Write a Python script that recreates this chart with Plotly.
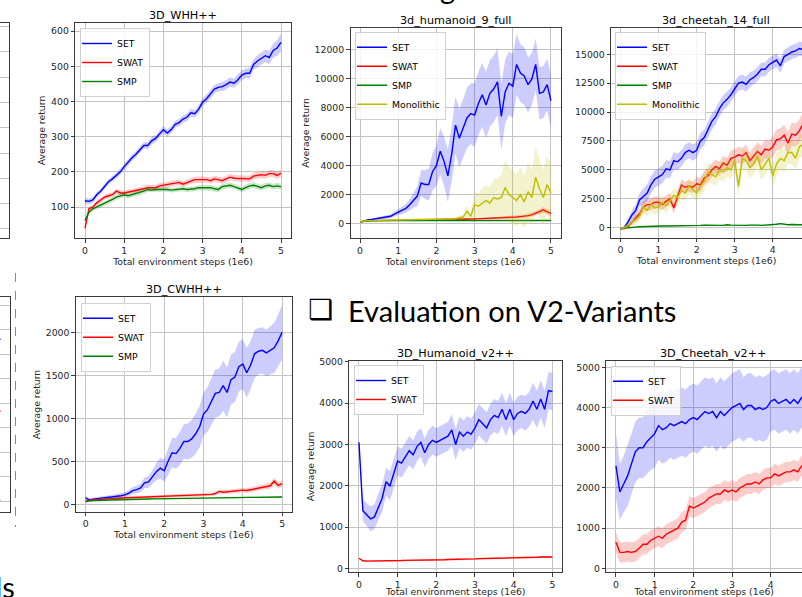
import plotly.graph_objects as go

W, H = 802, 597

STEPS = [0.0, 0.1, 0.2, 0.3, 0.4, 0.5, 0.6, 0.7, 0.8, 0.9,
         1.0, 1.1, 1.2, 1.3, 1.4, 1.5, 1.6, 1.7, 1.8, 1.9,
         2.0, 2.1, 2.2, 2.3, 2.4, 2.5, 2.6, 2.7, 2.8, 2.9,
         3.0, 3.1, 3.2, 3.3, 3.4, 3.5, 3.6, 3.7, 3.8, 3.9,
         4.0, 4.1, 4.2, 4.3, 4.4, 4.5, 4.6, 4.7, 4.8, 4.9,
         5.0]
X_TICKS = [0, 1, 2, 3, 4, 5]

# ---------------- 3D_WHH++ ----------------
WHH_SET = [118, 116, 120, 135, 145, 160, 172, 180, 190, 200,
           215, 228, 240, 250, 262, 275, 275, 288, 295, 308,
           320, 310, 320, 335, 340, 350, 355, 368, 365, 378,
           398, 408, 420, 435, 440, 442, 448, 455, 452, 462,
           475, 480, 480, 505, 515, 522, 530, 525, 545, 552,
           568]
WHH_SET_STD = [8, 8, 8, 8, 8, 8, 8, 8, 8, 9,
               9, 9, 9, 9, 9, 9, 10, 10, 10, 10,
               10, 10, 10, 10, 10, 10, 11, 11, 11, 11,
               12, 12, 12, 12, 12, 13, 13, 13, 13, 14,
               14, 14, 15, 15, 16, 17, 18, 19, 20, 22,
               25]
WHH_SWAT = [40, 95, 100, 112, 120, 128, 132, 135, 145, 140,
            140, 142, 145, 148, 150, 152, 155, 155, 155, 160,
            162, 162, 165, 168, 170, 165, 170, 175, 178, 178,
            178, 178, 175, 180, 178, 175, 180, 185, 182, 182,
            180, 182, 180, 188, 190, 192, 190, 195, 195, 190,
            196]
WHH_SWAT_STD = [5, 6, 6, 7, 7, 7, 7, 7, 7, 7,
                7, 7, 7, 7, 7, 7, 8, 8, 8, 8,
                8, 8, 8, 8, 8, 8, 8, 8, 9, 9,
                9, 9, 9, 9, 9, 9, 9, 9, 9, 9,
                9, 9, 9, 10, 10, 10, 10, 10, 10, 10,
                10]
WHH_SMP = [62, 85, 95, 100, 105, 110, 115, 122, 128, 132,
           135, 132, 135, 138, 140, 145, 150, 148, 150, 150,
           152, 150, 148, 150, 150, 152, 150, 150, 152, 155,
           155, 155, 155, 152, 150, 158, 160, 162, 158, 155,
           150, 155, 160, 162, 158, 155, 160, 162, 158, 160,
           158]
WHH_SMP_STD = [5, 6, 6, 6, 7, 7, 7, 7, 7, 7,
               7, 7, 7, 7, 7, 7, 7, 7, 7, 7,
               7, 7, 7, 7, 7, 7, 7, 7, 7, 7,
               8, 8, 8, 8, 8, 8, 8, 8, 8, 8,
               8, 8, 8, 8, 8, 8, 8, 8, 8, 8,
               8]

# ---------------- 3d_humanoid_9_full ----------------
H9_SET = [100, 200, 250, 280, 320, 350, 400, 450, 500, 650,
          800, 900, 1050, 1300, 1600, 1900, 2800, 2700, 2700, 3600,
          4000, 5000, 4300, 3300, 4800, 6800, 5900, 6600, 7300, 7600,
          7500, 8300, 8900, 8200, 9000, 9300, 9800, 7400, 9100, 9700,
          9500, 11000, 10400, 10200, 9600, 10000, 11000, 9000, 9100, 9600,
          8500]
H9_SET_STD = [50, 50, 60, 70, 80, 90, 100, 120, 140, 170,
              200, 250, 300, 400, 500, 700, 900, 1000, 1100, 1300,
              1400, 1600, 1700, 1800, 1900, 2000, 2000, 2000, 2100, 2100,
              2200, 2200, 2200, 2300, 2300, 2300, 2300, 2300, 2200, 2200,
              2200, 2100, 2000, 2000, 1900, 1800, 1800, 1800, 1800, 1800,
              1800]
H9_SWAT = [100, 180, 200, 200, 200, 200, 210, 210, 220, 220,
           220, 230, 230, 240, 240, 240, 250, 250, 260, 260,
           260, 270, 270, 280, 280, 290, 290, 300, 300, 310,
           320, 330, 330, 340, 350, 360, 350, 380, 400, 420,
           430, 450, 480, 500, 550, 600, 700, 800, 950, 800,
           700]
H9_SWAT_STD = [20, 30, 30, 30, 30, 30, 30, 30, 30, 30,
               30, 30, 30, 30, 30, 30, 40, 40, 40, 40,
               40, 40, 40, 40, 50, 50, 50, 50, 50, 50,
               60, 60, 60, 70, 70, 80, 80, 90, 90, 100,
               100, 110, 120, 130, 140, 150, 160, 180, 200, 200,
               200]
H9_SMP = [100, 150, 180, 190, 200, 200, 200, 200, 200, 200,
          200, 205, 205, 200, 200, 205, 210, 210, 205, 205,
          210, 210, 215, 210, 210, 215, 215, 210, 215, 220,
          220, 215, 215, 220, 220, 215, 220, 220, 225, 220,
          220, 215, 220, 225, 220, 220, 225, 220, 220, 215,
          215]
H9_SMP_STD = [20, 20, 20, 20, 20, 20, 20, 20, 20, 20,
              20, 20, 20, 20, 20, 20, 20, 20, 20, 20,
              25, 25, 25, 25, 25, 25, 25, 25, 25, 25,
              25, 25, 25, 25, 25, 25, 25, 25, 25, 25,
              30, 30, 30, 30, 30, 30, 30, 30, 30, 30,
              30]
H9_MONO = [100, 180, 200, 210, 220, 230, 240, 250, 250, 260,
           260, 260, 270, 270, 270, 280, 280, 290, 290, 300,
           300, 300, 310, 310, 320, 330, 400, 450, 850, 500,
           1300, 1200, 1400, 1600, 1400, 1800, 1700, 1800, 2500, 2000,
           1800, 1600, 2000, 1500, 2200, 1800, 3200, 2400, 1800, 2700,
           2100]
H9_MONO_STD = [30, 30, 30, 30, 30, 30, 30, 30, 30, 40,
               40, 40, 40, 40, 40, 50, 50, 50, 50, 50,
               60, 60, 60, 70, 80, 90, 150, 200, 400, 300,
               900, 900, 1000, 1100, 1100, 1300, 1400, 1600, 1900, 1900,
               1900, 1800, 1900, 1800, 2000, 1900, 2200, 2000, 1900, 2000,
               2000]

# ---------------- 3d_cheetah_14_full ----------------
C14_SET = [-100, 0, 500, 1100, 1500, 2400, 2700, 3000, 3700, 4200,
           4400, 4600, 5100, 5000, 5800, 5700, 6000, 6500, 6700, 6500,
           6700, 7500, 7800, 8500, 9200, 9600, 10300, 10800, 11100, 11500,
           12000, 12500, 12600, 12400, 12800, 13000, 13300, 13700, 13700, 14100,
           14300, 14500, 14000, 14800, 15000, 15200, 15300, 15500, 15400, 15500,
           15800]
C14_SET_STD = [100, 200, 300, 400, 500, 600, 700, 750, 750, 750,
               750, 750, 750, 750, 750, 700, 700, 700, 700, 700,
               700, 700, 700, 700, 700, 700, 650, 650, 650, 650,
               650, 650, 650, 650, 650, 600, 600, 600, 600, 600,
               600, 600, 600, 600, 600, 600, 600, 600, 600, 600,
               600]
C14_SWAT = [-100, -50, 100, 500, 800, 1200, 1800, 2000, 2000, 2200,
            2200, 2000, 2300, 2500, 1700, 2800, 3700, 3500, 3600, 3500,
            3800, 3700, 4300, 4500, 5000, 5300, 5100, 5600, 5400, 6000,
            6100, 6300, 6200, 6500, 5800, 6200, 6600, 6300, 6800, 6700,
            7000, 7600, 7700, 8000, 7300, 8100, 8000, 8400, 9000, 8800,
            9200]
C14_SWAT_STD = [50, 100, 150, 200, 300, 400, 500, 500, 500, 500,
                500, 500, 500, 500, 500, 500, 500, 500, 500, 500,
                600, 600, 600, 600, 600, 600, 600, 600, 600, 700,
                700, 700, 700, 700, 700, 800, 800, 800, 800, 800,
                900, 900, 900, 900, 1000, 1000, 1000, 1000, 1000, 1000,
                1000]
C14_SMP = [-100, 0, 0, 50, 50, 80, 100, 100, 100, 100,
           120, 150, 150, 150, 150, 180, 200, 200, 200, 180,
           200, 200, 220, 200, 200, 220, 200, 200, 250, 220,
           200, 200, 220, 200, 220, 250, 220, 200, 220, 200,
           250, 300, 350, 300, 250, 280, 250, 250, 260, 250,
           280]
C14_SMP_STD = [40, 40, 40, 50, 50, 50, 50, 50, 50, 50,
               50, 50, 50, 50, 50, 50, 50, 50, 50, 50,
               60, 60, 60, 60, 60, 60, 60, 60, 60, 60,
               60, 60, 60, 60, 60, 60, 60, 60, 60, 60,
               70, 70, 70, 70, 70, 70, 70, 70, 70, 70,
               70]
C14_MONO = [-100, 0, 200, 500, 700, 1000, 1800, 1500, 2000, 1700,
            1800, 2200, 1900, 2300, 2800, 2600, 3200, 3000, 3600, 3300,
            3000, 3600, 4000, 4800, 4600, 4400, 5000, 4800, 5200, 5000,
            5800, 3600, 6000, 5800, 5200, 5500, 6200, 5000, 5500, 6000,
            4500, 5500, 6000, 5800, 6500, 6500, 6000, 7000, 7200, 6500,
            6800]
C14_MONO_STD = [100, 100, 200, 300, 400, 400, 500, 500, 600, 600,
                600, 600, 600, 600, 600, 700, 700, 700, 700, 700,
                700, 800, 800, 800, 800, 800, 800, 800, 800, 800,
                900, 900, 900, 900, 900, 900, 900, 900, 900, 900,
                1000, 1000, 1000, 1000, 1000, 1000, 1000, 1000, 1000, 1000,
                1000]

# ---------------- 3D_CWHH++ ----------------
CW_SET = [75, 50, 60, 65, 75, 78, 80, 85, 90, 100,
          110, 130, 160, 170, 190, 250, 260, 320, 380, 420,
          390, 500, 600, 590, 650, 730, 730, 760, 820, 900,
          1050, 1100, 1200, 1290, 1300, 1380, 1300, 1450, 1480, 1600,
          1630, 1530, 1620, 1750, 1780, 1790, 1760, 1790, 1820, 1900,
          2000]
CW_SET_STD = [20, 20, 20, 20, 20, 20, 25, 25, 30, 30,
              30, 35, 40, 45, 50, 60, 70, 80, 100, 120,
              130, 150, 170, 180, 190, 200, 210, 220, 230, 240,
              250, 260, 270, 280, 280, 290, 290, 290, 290, 290,
              290, 290, 280, 280, 270, 270, 270, 280, 290, 300,
              320]
CW_SWAT = [30, 45, 50, 55, 60, 65, 68, 70, 72, 74,
           76, 78, 80, 82, 84, 86, 88, 90, 90, 92,
           94, 95, 96, 98, 100, 100, 102, 104, 106, 108,
           110, 120, 115, 125, 150, 140, 145, 150, 155, 160,
           165, 160, 170, 180, 190, 200, 210, 215, 270, 220,
           240]
CW_SWAT_STD = [8, 10, 10, 10, 10, 10, 10, 10, 10, 10,
               12, 12, 12, 12, 12, 14, 14, 14, 14, 14,
               16, 16, 16, 16, 16, 18, 18, 18, 18, 18,
               20, 20, 20, 22, 22, 22, 24, 24, 24, 26,
               26, 28, 28, 30, 30, 32, 34, 36, 38, 40,
               40]
CW_SMP = [40, 40, 42, 44, 46, 48, 50, 52, 54, 55,
          56, 57, 58, 59, 60, 61, 62, 63, 64, 65,
          66, 67, 68, 69, 70, 70, 71, 72, 73, 74,
          75, 75, 76, 76, 77, 77, 78, 78, 79, 79,
          80, 80, 81, 81, 82, 82, 83, 83, 84, 84,
          85]
CW_SMP_STD = [6, 6, 6, 6, 6, 6, 6, 6, 6, 6,
              7, 7, 7, 7, 7, 7, 7, 7, 7, 7,
              7, 7, 7, 7, 7, 7, 7, 7, 7, 7,
              8, 8, 8, 8, 8, 8, 8, 8, 8, 8,
              8, 8, 8, 8, 8, 8, 8, 8, 8, 8,
              8]

# ---------------- 3D_Humanoid_v2++ ----------------
H2_SET = [3050, 1400, 1300, 1200, 1250, 1500, 1700, 2100, 2000, 2300,
          2600, 2550, 2700, 2850, 2750, 2950, 3050, 2800, 3000, 3100,
          3050, 3100, 3150, 3200, 3350, 3000, 3300, 3200, 3300, 3250,
          3400, 3600, 3500, 3400, 3600, 3700, 3650, 3850, 3600, 3850,
          3600, 3750, 3800, 3750, 3850, 4050, 3850, 4100, 3850, 4300,
          4280]
H2_SET_STD = [100, 250, 280, 300, 300, 320, 330, 340, 350, 350,
              350, 350, 350, 350, 350, 350, 350, 350, 350, 350,
              350, 350, 350, 350, 380, 380, 380, 380, 380, 380,
              380, 380, 380, 380, 380, 400, 400, 400, 400, 400,
              400, 400, 400, 420, 420, 450, 450, 450, 450, 450,
              450]
H2_SWAT = [250, 190, 180, 180, 180, 185, 185, 190, 190, 190,
           195, 195, 200, 200, 200, 205, 205, 210, 210, 210,
           210, 215, 215, 220, 220, 220, 225, 225, 230, 230,
           235, 240, 240, 245, 245, 250, 250, 255, 255, 260,
           260, 265, 265, 270, 270, 275, 275, 280, 280, 280,
           280]
H2_SWAT_STD = [20, 20, 20, 20, 20, 20, 20, 20, 20, 20,
               20, 20, 20, 20, 20, 20, 20, 20, 20, 20,
               22, 22, 22, 22, 22, 22, 22, 22, 22, 22,
               25, 25, 25, 25, 25, 25, 25, 25, 25, 25,
               25, 25, 25, 25, 25, 25, 25, 25, 25, 25,
               25]

# ---------------- 3D_Cheetah_v2++ ----------------
C2_SET = [2550, 1900, 2100, 2300, 2600, 2900, 3000, 3000, 3150, 3250,
          3350, 3550, 3450, 3500, 3600, 3550, 3600, 3650, 3600, 3700,
          3750, 3700, 3800, 3900, 3850, 3900, 3750, 3900, 3800, 3900,
          4000, 4050, 4100, 3950, 4050, 4050, 3950, 4000, 3950, 4000,
          4150, 4200, 4100, 4150, 4200, 4100, 4200, 4100, 4250, 4200,
          4250]
C2_SET_STD = [800, 700, 700, 750, 750, 750, 750, 750, 800, 800,
              850, 850, 850, 850, 850, 850, 850, 850, 850, 850,
              850, 850, 850, 850, 850, 850, 850, 850, 850, 850,
              850, 850, 850, 800, 800, 800, 800, 800, 800, 800,
              750, 750, 750, 750, 750, 750, 750, 750, 750, 750,
              750]
C2_SWAT = [650, 400, 400, 420, 400, 420, 500, 600, 600, 700,
           750, 800, 750, 850, 900, 950, 1000, 1150, 1200, 1550,
           1500, 1550, 1600, 1650, 1750, 1800, 1850, 1850, 1950, 1900,
           1950, 1900, 2000, 2050, 2100, 2100, 2150, 2100, 2200, 2250,
           2250, 2350, 2300, 2350, 2400, 2400, 2450, 2400, 2550, 2500,
           2550]
C2_SWAT_STD = [250, 250, 250, 250, 250, 250, 250, 250, 250, 250,
               250, 250, 250, 250, 250, 250, 250, 250, 250, 250,
               250, 250, 250, 250, 250, 250, 250, 250, 250, 250,
               250, 250, 250, 250, 250, 250, 250, 250, 250, 250,
               250, 250, 250, 250, 250, 250, 250, 250, 250, 250,
               250]

# ---------------- partially visible panel (bottom-left, cut by the slide edge) ----------------
PART_X = [4.9, 5.0]
PART_SET = [6.55, 6.61]
PART_SWAT = [3.70, 3.67]
PART_SMP = [0.05, 0.04]

# ---------------------------------------------------------------------
BLUE, RED, GREEN, OLIVE = '#0000ff', '#ff0000', '#008000', '#bfbf00'
FILL = {BLUE: 'rgba(0,0,255,0.2)', RED: 'rgba(255,0,0,0.2)',
        GREEN: 'rgba(0,128,0,0.2)', OLIVE: 'rgba(191,191,0,0.2)'}
FONT = 'DejaVu Sans'
FS = 9.3
TXT = '#262626'
SPINE = '#3a3a3a'
GRID = '#c4c4c4'


def fx(p):
    return p / W


def fy(p):
    return 1 - p / H


fig = go.Figure()


def add_series(ax, name, mean, std, color, legend):
    upper = [m + s for m, s in zip(mean, std)]
    lower = [m - s for m, s in zip(mean, std)]
    fig.add_trace(go.Scatter(x=STEPS + STEPS[::-1], y=upper + lower[::-1],
                             fill='toself', fillcolor=FILL[color], mode='lines',
                             line=dict(width=0, color=FILL[color]), hoverinfo='skip',
                             showlegend=False, xaxis='x' + ax, yaxis='y' + ax))
    fig.add_trace(go.Scatter(x=STEPS, y=mean, mode='lines', name=name,
                             line=dict(color=color, width=1.4), legend=legend,
                             xaxis='x' + ax, yaxis='y' + ax))


def axes(i, xpx, ypx, xrange, yrange, ytickvals, ytitle, right_spine=True, xstandoff=3):
    sid = '' if i == 1 else str(i)
    common = dict(ticks='outside', ticklen=3.5, tickwidth=0.8, tickcolor=SPINE,
                  showline=True, linecolor=SPINE, linewidth=1, showgrid=True,
                  gridcolor=GRID, gridwidth=0.9, zeroline=False, automargin=False,
                  tickfont=dict(family=FONT, size=FS, color=TXT))
    xa = dict(common, domain=[fx(xpx[0]), min(1, fx(xpx[1]))], range=xrange,
              tickvals=X_TICKS, mirror=True, anchor='y' + sid,
              title=dict(text='Total environment steps (1e6)',
                         font=dict(family=FONT, size=FS, color=TXT), standoff=xstandoff))
    ya = dict(common, domain=[fy(ypx[1]), fy(ypx[0])], range=yrange,
              tickvals=ytickvals, tickformat='d', mirror=right_spine,
              anchor='x' + sid)
    if ytitle:
        ya['title'] = dict(text='Average return',
                           font=dict(family=FONT, size=FS, color=TXT), standoff=3)
    fig.layout['xaxis' + sid] = xa
    fig.layout['yaxis' + sid] = ya


# Panel 1: 3D_WHH++
axes(1, (75.2, 290.8), (23, 238), [-0.25, 5.25], [12, 623], [100, 200, 300, 400, 500, 600], True)
add_series('', 'SET', WHH_SET, WHH_SET_STD, BLUE, 'legend')
add_series('', 'SWAT', WHH_SWAT, WHH_SWAT_STD, RED, 'legend')
add_series('', 'SMP', WHH_SMP, WHH_SMP_STD, GREEN, 'legend')

# Panel 2: 3d_humanoid_9_full
axes(2, (350.5, 560.5), (28, 238), [-0.25, 5.25], [-1000, 13520],
     [0, 2000, 4000, 6000, 8000, 10000, 12000], True)
add_series('2', 'SET', H9_SET, H9_SET_STD, BLUE, 'legend2')
add_series('2', 'SWAT', H9_SWAT, H9_SWAT_STD, RED, 'legend2')
add_series('2', 'SMP', H9_SMP, H9_SMP_STD, GREEN, 'legend2')
add_series('2', 'Monolithic', H9_MONO, H9_MONO_STD, OLIVE, 'legend2')

# Panel 3: 3d_cheetah_14_full (cut at the right edge)
axes(3, (611, 802), (27.7, 237.7), [-0.25, (802 - 620.3) / 38.1], [-865, 17300],
     [0, 2500, 5000, 7500, 10000, 12500, 15000], False, right_spine=False)
add_series('3', 'SET', C14_SET, C14_SET_STD, BLUE, 'legend3')
add_series('3', 'SWAT', C14_SWAT, C14_SWAT_STD, RED, 'legend3')
add_series('3', 'SMP', C14_SMP, C14_SMP_STD, GREEN, 'legend3')
add_series('3', 'Monolithic', C14_MONO, C14_MONO_STD, OLIVE, 'legend3')

# Panel 4: 3D_CWHH++
axes(4, (75.8, 291.9), (297.3, 511.7), [-0.25, 5.25], [-86, 2407], [0, 500, 1000, 1500, 2000], True)
add_series('4', 'SET', CW_SET, CW_SET_STD, BLUE, 'legend4')
add_series('4', 'SWAT', CW_SWAT, CW_SWAT_STD, RED, 'legend4')
add_series('4', 'SMP', CW_SMP, CW_SMP_STD, GREEN, 'legend4')

# Panel 5: 3D_Humanoid_v2++
axes(5, (349.3, 562), (360.7, 572), [-0.25, 5.25], [-82, 5024], [0, 1000, 2000, 3000, 4000, 5000], True,
     xstandoff=7)
add_series('5', 'SET', H2_SET, H2_SET_STD, BLUE, 'legend5')
add_series('5', 'SWAT', H2_SWAT, H2_SWAT_STD, RED, 'legend5')

# Panel 6: 3D_Cheetah_v2++ (cut at the right edge)
axes(6, (606.3, 802), (360.7, 572), [-0.25, (802 - 616) / 38.67], [-89, 5164],
     [0, 1000, 2000, 3000, 4000, 5000], False, right_spine=False, xstandoff=7)
add_series('6', 'SET', C2_SET, C2_SET_STD, BLUE, 'legend6')
add_series('6', 'SWAT', C2_SWAT, C2_SWAT_STD, RED, 'legend6')

# Panels 7/8: slivers of panels cut by the left edge
edge = dict(showline=True, linecolor=SPINE, linewidth=1, zeroline=False, automargin=False,
            tickfont=dict(family=FONT, size=FS, color=TXT))
fig.layout['xaxis7'] = dict(edge, domain=[0, fx(8.5)], range=[4.995, 5.25], tickvals=[5],
                            ticks='', showgrid=False, mirror=True, anchor='y7')
fig.layout['yaxis7'] = dict(edge, domain=[fy(238), fy(23)], range=[-0.356, 8.14], dtick=1, tick0=0,
                            showticklabels=False, ticks='', showgrid=True, gridcolor=GRID,
                            side='right', anchor='x7')
fig.layout['xaxis8'] = dict(edge, domain=[0, fx(10)], range=[4.985, 5.25], tickvals=[5],
                            ticks='', showgrid=False, mirror=True, anchor='y8')
fig.layout['yaxis8'] = dict(edge, domain=[fy(512), fy(297)], range=[-0.449, 8.33], dtick=1, tick0=0,
                            showticklabels=False, ticks='', showgrid=True, gridcolor=GRID,
                            side='right', anchor='x8')
fig.add_trace(go.Scatter(x=[], y=[], mode='lines', showlegend=False, hoverinfo='skip',
                         xaxis='x7', yaxis='y7'))
for nm, yy, cc in (('SET', PART_SET, BLUE), ('SWAT', PART_SWAT, RED), ('SMP', PART_SMP, GREEN)):
    fig.add_trace(go.Scatter(x=PART_X, y=yy, mode='lines', line=dict(color=cc, width=1.4),
                             showlegend=False, hoverinfo='skip', xaxis='x8', yaxis='y8'))


# Legends
def legend_at(xp, yp):
    return dict(x=fx(xp), y=fy(yp), xanchor='left', yanchor='top',
                bgcolor='rgba(255,255,255,0.8)', bordercolor='#d0d0d0', borderwidth=1,
                font=dict(family=FONT, size=FS, color='#000'), itemwidth=30,
                tracegroupgap=0, indentation=-4)


fig.update_layout(legend=legend_at(80, 28), legend2=legend_at(355, 31.7),
                  legend3=legend_at(615, 31.7), legend4=legend_at(81, 302.7),
                  legend5=legend_at(354, 365), legend6=legend_at(611, 365.7))

# Panel titles
TITLES = [('3D_WHH++', 183, 23), ('3d_humanoid_9_full', 455.5, 28),
          ('3d_cheetah_14_full', 715.5, 27.7), ('3D_CWHH++', 183.8, 297.3),
          ('3D_Humanoid_v2++', 455.6, 360.7), ('3D_Cheetah_v2++', 712.7, 360.7)]
ann = []
for t, cx, top in TITLES:
    ann.append(dict(text=t, x=fx(cx), y=fy(top), xref='paper', yref='paper',
                    xanchor='center', yanchor='bottom', yshift=-1, showarrow=False,
                    font=dict(family=FONT, size=11.2, color='#000')))

# Slide text
ann.append(dict(text='❑', x=fx(320), y=fy(309), xref='paper', yref='paper',
                xanchor='center', yanchor='middle', showarrow=False,
                font=dict(family='DejaVu Sans', size=28, color='#000')))
ann.append(dict(text='Evaluation on V2-Variants', x=fx(346), y=fy(310), xref='paper', yref='paper',
                xanchor='left', yanchor='middle', showarrow=False,
                font=dict(family='Lato', size=29, color='#000')))
ann.append(dict(text='ds', x=fx(16.5), y=fy(586), xref='paper', yref='paper',
                xanchor='right', yanchor='middle', showarrow=False,
                font=dict(family='Lato', size=29, color='#000')))
ann.append(dict(text='g', x=fx(448), y=fy(-12), xref='paper', yref='paper',
                xanchor='center', yanchor='middle', showarrow=False,
                font=dict(family='Lato', size=29, color='#000')))

fig.update_layout(
    width=W, height=H, margin=dict(l=0, r=0, t=0, b=0, autoexpand=False),
    paper_bgcolor='white', plot_bgcolor='white', showlegend=True,
    annotations=ann,
    shapes=[dict(type='line', xref='paper', yref='paper', x0=fx(15.5), x1=fx(15.5),
                 y0=fy(273), y1=fy(527), line=dict(color='#8a8a8a', width=1, dash='dash'))],
)

fig.write_html('out.html', config={'displayModeBar': False},
               post_script="document.body.style.margin='0px';")
